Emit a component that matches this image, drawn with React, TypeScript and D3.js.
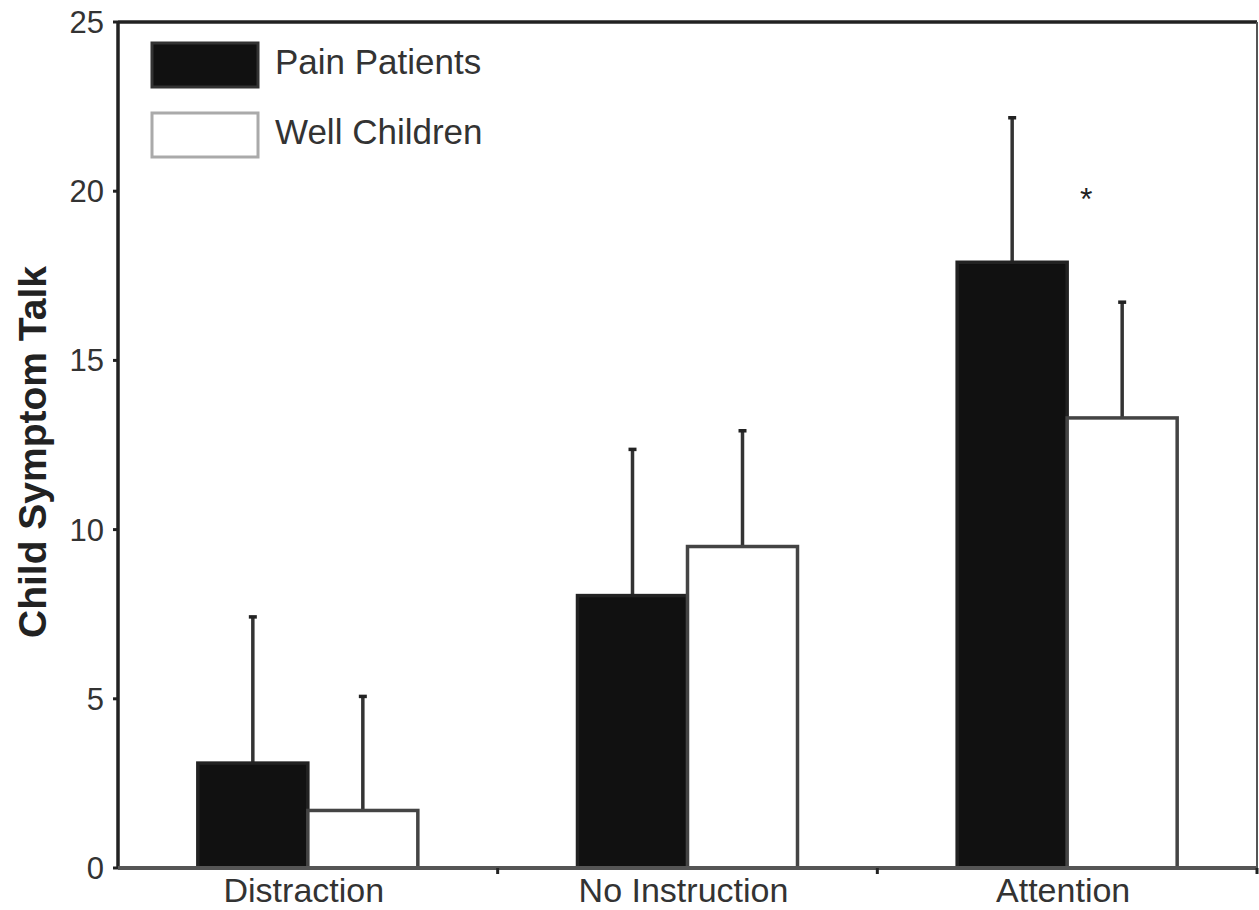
import React, { useRef, useEffect } from 'react';
import * as d3 from 'd3';

const categories = ['Distraction', 'No Instruction', 'Attention'];
const series = ['Pain Patients', 'Well Children'];
const painMeans = [3.1, 8.05, 17.9];
const painUpper = [7.45, 12.4, 22.2];
const wellMeans = [1.7, 9.5, 13.3];
const wellUpper = [5.1, 12.95, 16.75];
const yTicks = [0, 5, 10, 15, 20, 25];
const starCategory = 'Attention';
const starValue = 19.8;

function App() {
  const ref = useRef<SVGSVGElement>(null);

  const width = 1259;
  const height = 910;
  const left = 118;
  const right = 1257;
  const top = 22;
  const bottom = 868;

  useEffect(() => {
    const svg = d3.select(ref.current);
    svg.selectAll('*').remove();

    const x = d3.scaleBand().domain(categories).range([left, right]);
    const sub = d3.scaleBand().domain(series).range([0, 220]);
    const y = d3.scaleLinear().domain([0, 25]).range([bottom, top]);
    const line = '#333';
    const font = 'Liberation Sans, Arial, sans-serif';

    // bars
    const groups = [
      { name: series[0], means: painMeans, upper: painUpper, fill: '#111', stroke: '#222' },
      { name: series[1], means: wellMeans, upper: wellUpper, fill: '#fff', stroke: '#444' },
    ];
    groups.forEach(g => {
      categories.forEach((c, i) => {
        const bx = (x(c) as number) + x.bandwidth() / 2 - 110 + (sub(g.name) as number);
        const cx = bx + sub.bandwidth() / 2;
        // error bar
        svg.append('line')
          .attr('x1', cx).attr('x2', cx)
          .attr('y1', y(g.means[i])).attr('y2', y(g.upper[i]))
          .attr('stroke', line).attr('stroke-width', 3.5);
        svg.append('line')
          .attr('x1', cx - 4).attr('x2', cx + 4)
          .attr('y1', y(g.upper[i]) + 1).attr('y2', y(g.upper[i]) + 1)
          .attr('stroke', '#222').attr('stroke-width', 3.5);
        svg.append('rect')
          .attr('x', bx).attr('y', y(g.means[i]))
          .attr('width', sub.bandwidth())
          .attr('height', bottom - y(g.means[i]))
          .attr('fill', g.fill)
          .attr('stroke', g.stroke).attr('stroke-width', 3.5);
      });
    });

    // axes / frame
    svg.append('line').attr('x1', left).attr('x2', left).attr('y1', top).attr('y2', bottom)
      .attr('stroke', '#222').attr('stroke-width', 3.5);
    svg.append('line').attr('x1', left).attr('x2', right).attr('y1', top).attr('y2', top)
      .attr('stroke', '#222').attr('stroke-width', 3.5);
    svg.append('line').attr('x1', right).attr('x2', right).attr('y1', top).attr('y2', bottom)
      .attr('stroke', '#555').attr('stroke-width', 2);
    svg.append('line').attr('x1', left).attr('x2', right).attr('y1', bottom).attr('y2', bottom)
      .attr('stroke', '#555').attr('stroke-width', 4);

    // y ticks
    yTicks.forEach(t => {
      svg.append('line').attr('x1', left - 5).attr('x2', left)
        .attr('y1', y(t)).attr('y2', y(t)).attr('stroke', '#222').attr('stroke-width', 3);
      svg.append('text').attr('x', left - 14).attr('y', y(t) + 11)
        .attr('text-anchor', 'end').attr('font-family', font).attr('font-size', 31)
        .attr('fill', '#333').text(t);
    });

    // x ticks at category boundaries
    categories.forEach(c => {
      const bx = (x(c) as number) + x.bandwidth();
      svg.append('line').attr('x1', bx).attr('x2', bx)
        .attr('y1', bottom).attr('y2', bottom + 6).attr('stroke', '#222').attr('stroke-width', 3);
      svg.append('text').attr('x', (x(c) as number) + x.bandwidth() / 2 - 4).attr('y', 902)
        .attr('text-anchor', 'middle').attr('font-family', font).attr('font-size', 34)
        .attr('fill', '#333').text(c);
    });

    // star
    svg.append('text')
      .attr('x', (x(starCategory) as number) + x.bandwidth() / 2 + 19)
      .attr('y', y(starValue) + 12)
      .attr('text-anchor', 'middle').attr('font-family', font).attr('font-size', 32)
      .attr('fill', '#222').text('*');

    // y title
    svg.append('text')
      .attr('transform', `translate(46, 452) rotate(-90)`)
      .attr('text-anchor', 'middle').attr('font-family', font).attr('font-size', 39)
      .attr('font-weight', 'bold').attr('fill', '#222').text('Child Symptom Talk');

    // legend
    const legend = [
      { name: series[0], fill: '#111', stroke: '#333', y: 43 },
      { name: series[1], fill: '#fff', stroke: '#aaa', y: 113 },
    ];
    legend.forEach(l => {
      svg.append('rect').attr('x', 152).attr('y', l.y).attr('width', 106).attr('height', 44)
        .attr('fill', l.fill).attr('stroke', l.stroke).attr('stroke-width', 3);
      svg.append('text').attr('x', 275).attr('y', l.y + 31)
        .attr('font-family', font).attr('font-size', 35).attr('fill', '#333').text(l.name);
    });
  });

  return (
    <svg ref={ref} width={width} height={height}
      style={{ position: 'absolute', left: 0, top: 0, background: '#fff' }} />
  );
}

export default App;
